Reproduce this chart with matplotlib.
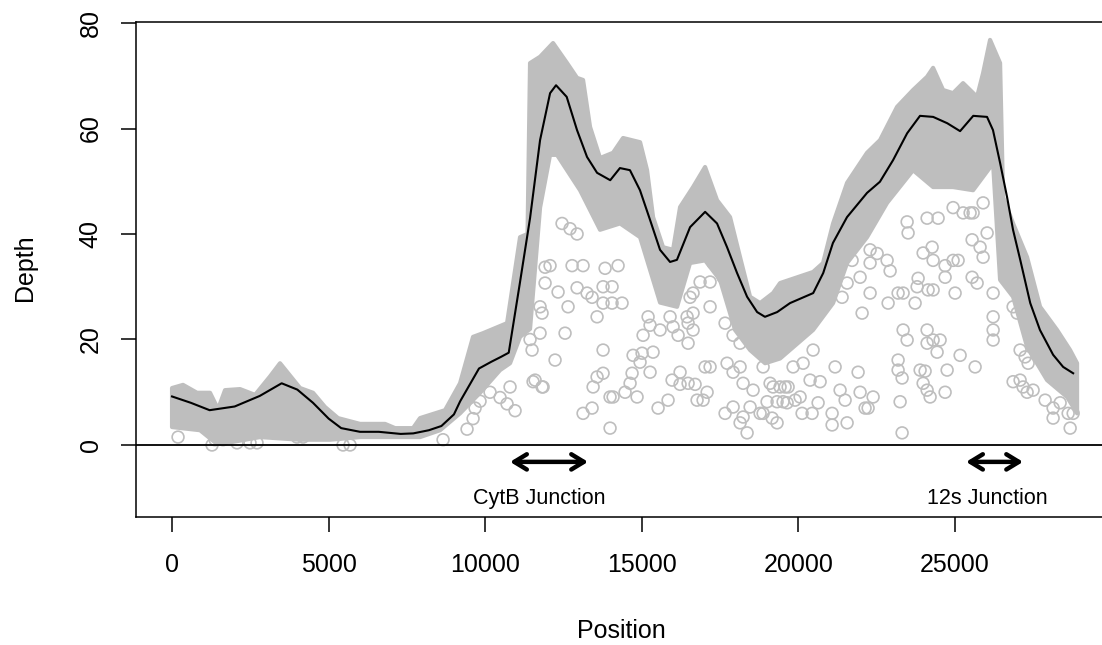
import numpy as np
import matplotlib
matplotlib.use("Agg")
import matplotlib.pyplot as plt

plt.rcParams['font.family'] = ['Liberation Sans', 'DejaVu Sans']

# ---- smoothed depth curve (black line) ----
curve_pos = [0, 600, 1200, 2000, 2800, 3500, 4000, 4500, 5000, 5400, 6000, 6600, 7300, 7700,
             8200, 8600, 9000, 9200, 9800, 10200, 10500, 10750, 11100, 11430, 11750, 12070,
             12260, 12600, 12930, 13250, 13570, 13990, 14300, 14620, 14940, 15260, 15580,
             15900, 16120, 16540, 17020, 17400, 17720, 18040, 18360, 18680, 18930, 19320,
             19730, 20470, 20790, 21100, 21550, 22190, 22600, 23020, 23470, 23880, 24300,
             24750, 25160, 25580, 26020, 26210, 26440, 26660, 26850, 27080, 27400, 27710,
             28130, 28450, 28770]
curve_depth = [9.2, 8.0, 6.6, 7.3, 9.3, 11.7, 10.5, 8.0, 5.0, 3.2, 2.5, 2.5, 2.1, 2.2,
               2.8, 3.6, 5.8, 8.3, 14.5, 15.8, 16.7, 17.5, 30.5, 43.0, 57.8, 66.7,
               68.2, 66.0, 59.7, 54.6, 51.6, 50.2, 52.5, 52.1, 48.3, 42.7, 37.0,
               34.7, 35.1, 41.3, 44.2, 42.0, 37.5, 32.6, 28.1, 25.2, 24.3, 25.2,
               26.9, 28.8, 32.6, 38.3, 43.2, 47.8, 49.9, 54.0, 59.1, 62.4, 62.2,
               61.0, 59.5, 62.4, 62.2, 59.7, 53.4, 47.0, 40.8, 35.1, 26.9, 21.8,
               17.1, 14.8, 13.6]

# ---- dense point cloud: upper and lower edges ----
upper_pos = [0, 351, 798, 1213, 1469, 1692, 2171, 2650, 3129, 3448, 4087, 4502, 4885, 5300,
             6003, 6801, 7120, 7695, 7918, 8716, 9195, 9610, 9930, 10696, 11111, 11350,
             11430, 11750, 12165, 12612, 12931, 13123, 13346, 13665, 14080, 14400, 14943,
             15166, 15358, 15677, 15996, 16220, 16635, 17018, 17401, 17816, 18135, 18455,
             18774, 19189, 19413, 20466, 20785, 21105, 21552, 22190, 22605, 23148, 23659,
             24106, 24298, 24617, 24936, 25255, 25702, 25894, 26117, 26437, 26533, 26852,
             27299, 27714, 28257, 28672, 28895]
upper_depth = [10.8, 11.4, 9.9, 9.9, 6.8, 10.4, 10.6, 9.5, 13.0, 15.5, 10.8, 9.9, 7.2, 5.1,
               4.0, 4.0, 3.2, 3.2, 5.1, 6.6, 11.7, 20.5, 21.2, 23.1, 39.4, 40.0,
               72.4, 73.6, 76.2, 72.4, 69.6, 69.2, 60.3, 54.4, 55.4, 58.2, 57.4,
               52.1, 43.2, 37.5, 37.0, 45.1, 48.9, 52.7, 46.4, 43.2, 35.6, 28.1,
               26.9, 28.8, 30.7, 32.8, 34.5, 42.0, 49.7, 55.4, 57.8, 64.1, 67.3,
               69.8, 71.5, 67.3, 66.7, 68.6, 66.0, 70.5, 76.8, 72.4, 47.0, 42.0,
               35.6, 26.2, 21.8, 18.0, 15.5]
lower_pos = [0, 894, 1373, 1852, 2810, 4087, 5045, 6003, 7918, 8557, 9195, 9834, 10473,
             10792, 11111, 11430, 11750, 12069, 12292, 13027, 13665, 14304, 14943, 15581,
             16124, 16539, 17018, 17497, 17976, 18455, 18934, 19413, 20466, 21105, 21552,
             22190, 22829, 23659, 24298, 24936, 25575, 26213, 26437, 26852, 27299, 27937,
             28576, 28895]
lower_depth = [3.4, 2.8, 0.5, 0.5, 1.5, 1.0, 1.0, 1.5, 1.5, 2.8, 6.0, 9.9, 14.2,
               15.5, 20.5, 22.0, 45.0, 55.0, 55.0, 48.3, 40.8, 42.0, 39.4, 27.0,
               26.2, 34.5, 35.0, 31.3, 21.8, 18.0, 15.5, 16.4, 21.8, 26.9, 34.5,
               39.4, 45.9, 52.1, 48.9, 48.9, 48.3, 53.4, 31.3, 28.1, 18.6, 12.3,
               9.1, 6.0]

# ---- scattered low-depth points below the dense cloud ----
out_pos = [192, 1277, 1373, 1628, 2075, 2490, 2714, 2490, 2810, 3033, 3448, 3991, 4183, 5460,
           5684, 8653, 9419, 9611, 9675, 9834, 10153, 10473, 10696, 10952, 10792,
           11527, 11814, 11430, 11495, 11750, 11750, 11814, 11910, 12069, 11910, 12229,
           11591, 11846, 12548, 12325, 12644, 12452, 12708, 12932, 12772, 13123, 12932,
           13251, 13411, 13762, 14049, 14241, 13826, 13570, 13762, 14049, 14368, 13762,
           13570, 13762, 13443, 13985, 14081, 13123, 13411, 13985, 14464, 14688, 14624,
           14847, 14720, 15007, 14943, 15358, 15262, 15039, 15199, 15262, 15582, 15901,
           15997, 16157, 15518, 15837, 16220, 15965, 16220, 16476, 16699, 16476, 16444,
           16635, 16476, 16635, 16539, 16635, 16763, 16955, 17083, 17019, 17178, 17178,
           16859, 17178, 17274, 17593, 17657, 17721, 17913, 17657, 17913, 18136, 18232,
           17913, 18136, 18136, 18360, 18232, 18456, 18551, 18775, 18871, 18871, 19094,
           19190, 18998, 19317, 19509, 19158, 19317, 19669,
           19413, 19573, 19637, 19892, 20052, 20371, 20691, 19829, 20148, 20467, 20116,
           20435, 20627, 21074, 21074, 21329, 21489, 21553, 21170, 21904, 21968, 22127,
           22223, 22383, 22032, 22862, 22287, 21393, 21553, 21712, 21968, 22287, 22926,
           22830, 22511, 22287, 23181, 23181, 23309, 23245, 23341, 23469, 23309, 23181,
           23341, 23469, 23500, 23788, 23820, 23724, 23884, 23980, 24107, 24203, 24107,
           24299, 24107, 24522, 23980, 24267, 24299, 24107, 24458, 24139, 24299, 24043,
           24746, 24682, 24426, 24937, 25097, 24682, 24682, 25001, 25161, 24937, 25257,
           25480, 25576, 25640, 25544, 25704, 25544, 25799, 25895, 26023, 26215, 26215,
           26215, 26215, 25895, 26853, 26981, 26853, 27076, 27172, 27300, 27491, 27332,
           27076, 27236, 27875, 28130, 28354, 28130, 28610, 28770, 28674]
out_depth = [1.5, 0.0, 1.0, 1.0, 0.4, 0.4, 0.4, 2.3, 2.5, 3.2, 3.8, 1.5, 1.5, 0.0,
             0.0, 1.0, 3.0, 5.0, 7.0, 8.3, 10.0, 9.0, 7.8, 6.5, 11.0,
             12.0, 11.0, 20.0, 18.0, 21.2, 26.2, 25.0, 33.7, 34.0, 30.7, 16.1,
             12.3, 11.0, 21.2, 29.0, 26.2, 42.0, 41.0, 40.0, 34.0, 34.0, 29.8,
             28.8, 28.0, 30.0, 30.0, 34.0, 33.5, 24.3, 26.9, 26.9, 26.9, 18.0,
             12.9, 13.6, 11.0, 9.1, 9.1, 6.0, 7.0, 3.2, 10.0, 13.6, 11.7,
             9.1, 17.0, 17.4, 15.7, 17.6, 13.8, 20.8, 24.3, 22.7, 21.8, 24.3,
             22.4, 20.8, 7.0, 8.5, 13.8, 12.3, 11.5, 11.7, 11.5, 19.3, 24.3,
             21.8, 23.1, 25.0, 28.0, 28.8, 8.5, 8.5, 10.0, 14.8, 14.8, 26.2,
             30.9, 30.9, 34.5, 31.8, 23.1, 15.5, 13.8, 6.0, 7.2, 14.8, 11.7,
             20.8, 19.3, 4.2, 2.3, 5.3, 7.2, 10.4, 6.0, 6.0, 14.8, 11.7,
             11.0, 8.2, 8.2, 8.2, 5.1, 4.2, 11.0,
             11.0, 11.0, 8.0, 8.5, 9.1, 12.3, 12.0, 14.8, 15.5, 18.0, 6.0,
             6.0, 8.0, 6.0, 3.8, 10.4, 8.5, 4.2, 14.8, 13.8, 10.0, 7.0,
             7.0, 9.1, 25.0, 26.9, 28.8, 28.0, 30.7, 35.0, 31.8, 34.5, 33.0,
             35.0, 36.3, 37.0, 16.1, 14.2, 12.7, 8.2, 21.8, 19.9, 2.3, 28.8,
             28.8, 42.3, 40.2, 30.0, 31.6, 26.9, 14.2, 11.7, 10.4, 9.1, 21.8,
             19.9, 19.3, 19.9, 36.4, 37.5, 35.0, 43.0, 43.0, 29.4, 29.4, 14.0,
             14.2, 10.0, 17.6, 35.0, 35.0, 34.0, 31.8, 28.8, 17.0, 45.0, 44.0,
             44.0, 44.0, 14.8, 31.8, 30.7, 38.9, 37.5, 35.6, 40.2, 28.8, 24.3,
             21.8, 19.9, 45.9, 26.2, 25.0, 12.0, 12.3, 11.0, 10.0, 10.4, 15.5,
             18.0, 16.7, 8.5, 7.0, 8.0, 5.1, 6.0, 6.0, 3.2]

x_ticks = [0, 5000, 10000, 15000, 20000, 25000]
y_ticks = [0, 20, 40, 60, 80]

junction_labels = ["CytB Junction", "12s Junction"]
junction_start = [10792, 25351]
junction_end = [13282, 27171]
junction_text_x = [11718, 26022]

GRAY = '#BEBEBE'
W, H = 1102, 645
fig = plt.figure(figsize=(W / 100, H / 100), dpi=100)

xlim = (-1160, 30010)
ylim = (-13.65, 80.19)
left_px, right_px = 135.7, 1112.0
top_px, bottom_px = 22.0, 517.0
ax = fig.add_axes([left_px / W, 1 - bottom_px / H, (right_px - left_px) / W,
                   (bottom_px - top_px) / H])
ax.set_xlim(*xlim)
ax.set_ylim(*ylim)

# dense band
band_x = np.r_[upper_pos, lower_pos[::-1]]
band_y = np.r_[upper_depth, lower_depth[::-1]]
ax.fill(band_x, band_y, facecolor=GRAY, edgecolor=GRAY, lw=3.0,
        joinstyle='round', zorder=1)

# scattered points
ax.scatter(out_pos, out_depth, s=72, facecolors='none', edgecolors=GRAY,
           linewidths=1.2, zorder=2)

ax.axhline(0, color='black', lw=1.3, zorder=3)
ax.plot(curve_pos, curve_depth, color='black', lw=1.5, zorder=4)

for lab, x0, x1, tx in zip(junction_labels, junction_start, junction_end, junction_text_x):
    ax.annotate('', xy=(x1, -3.2), xytext=(x0, -3.2),
                arrowprops=dict(arrowstyle='<->,head_length=0.9,head_width=0.55',
                                lw=3.2, color='black', shrinkA=0, shrinkB=0),
                zorder=5)
    ax.text(tx, -10.2, lab, ha='center', va='center', fontsize=15.5, color='black')

ax.set_xticks(x_ticks)
ax.set_xticklabels([str(t) for t in x_ticks])
ax.set_yticks(y_ticks)
ax.set_yticklabels([str(t) for t in y_ticks], rotation=90, va='center')
ax.tick_params(axis='both', direction='out', length=10.8, width=1.1,
               labelsize=18, color='black')
ax.tick_params(axis='x', pad=15)
ax.tick_params(axis='y', pad=13)
for s in ['left', 'bottom', 'top', 'right']:
    ax.spines[s].set_linewidth(1.1)
    ax.spines[s].set_color('black')

fig.text(621 / W, 1 - 631 / H, 'Position', ha='center', va='center', fontsize=18)
fig.text(25 / W, 1 - 268 / H, 'Depth', ha='center', va='center', fontsize=18,
         rotation=90)

fig.savefig('out.png', dpi=100)
